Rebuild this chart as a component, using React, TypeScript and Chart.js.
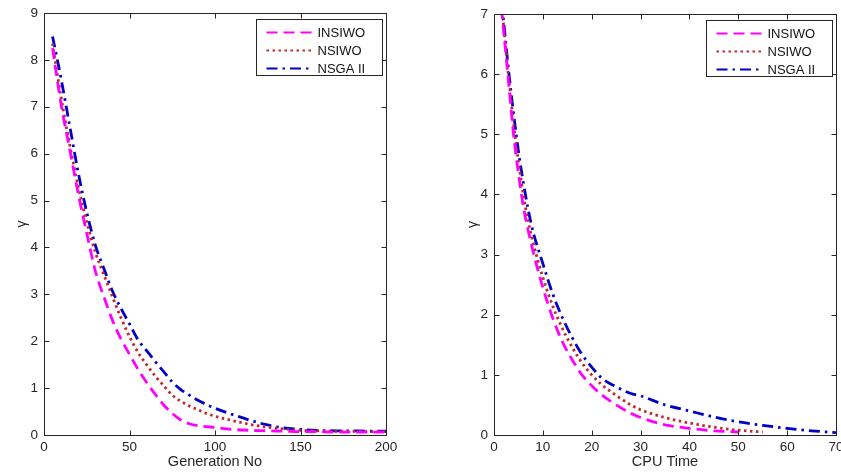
import React, { useEffect, useRef } from "react";
import { Chart, registerables } from "chart.js";
Chart.register(...registerables);

// ---------- Left panel: gamma vs Generation No ----------
const genX = [5, 10, 15, 20, 25, 30, 35, 40, 45, 50, 55, 60, 65, 70, 75, 80, 85, 90, 95, 100, 110, 120, 130, 140, 150, 160, 170, 180, 190, 200];
const genINSIWO = [8.25, 7.05, 6.1, 5.15, 4.3, 3.5, 2.95, 2.45, 2.05, 1.72, 1.4, 1.12, 0.87, 0.64, 0.46, 0.32, 0.24, 0.2, 0.18, 0.16, 0.12, 0.1, 0.09, 0.08, 0.07, 0.07, 0.06, 0.06, 0.06, 0.06];
const genNSIWO = [8.35, 7.2, 6.2, 5.3, 4.55, 3.9, 3.42, 2.95, 2.5, 2.1, 1.76, 1.5, 1.26, 1.05, 0.85, 0.72, 0.62, 0.54, 0.46, 0.4, 0.31, 0.23, 0.17, 0.13, 0.1, 0.09, 0.08, 0.08, 0.07, 0.07];
const genNSGA = [8.5, 7.6, 6.6, 5.6, 4.75, 4.05, 3.55, 3.07, 2.7, 2.37, 2.03, 1.8, 1.57, 1.35, 1.13, 0.97, 0.85, 0.74, 0.65, 0.57, 0.44, 0.32, 0.22, 0.15, 0.12, 0.1, 0.09, 0.09, 0.08, 0.08];

// ---------- Right panel: gamma vs CPU Time ----------
const cpuX = [1.5, 2, 3, 4, 5, 6, 7, 8, 10, 12, 14, 16, 18, 20, 22, 25, 28, 30, 35, 40, 45, 50, 55, 60, 65, 70];
const cpuINSIWO = [7.1, 6.7, 5.85, 5.0, 4.35, 3.8, 3.4, 3.05, 2.45, 1.95, 1.55, 1.25, 1.0, 0.82, 0.67, 0.5, 0.36, 0.29, 0.17, 0.11, 0.07, 0.05, null, null, null, null];
const cpuNSIWO = [7.15, 6.78, 5.95, 5.18, 4.55, 4.0, 3.55, 3.2, 2.62, 2.15, 1.77, 1.46, 1.2, 1.0, 0.84, 0.66, 0.5, 0.42, 0.29, 0.2, 0.13, 0.08, 0.05, null, null, null];
const cpuNSGA = [7.2, 6.85, 6.05, 5.35, 4.72, 4.2, 3.75, 3.38, 2.85, 2.35, 1.95, 1.62, 1.34, 1.13, 0.95, 0.8, 0.69, 0.65, 0.5, 0.4, 0.3, 0.22, 0.16, 0.11, 0.07, 0.04];

const seriesNames = ["INSIWO", "NSIWO", "NSGA II"];
const seriesColors = ["#FF00FF", "#C0282B", "#0000C8"];
const seriesDashes = [[11, 6], [2.5, 3.5], [11, 5, 2.5, 5]];

const leftTicksX = { min: 0, max: 200, step: 50 };
const leftTicksY = { min: 0, max: 9, step: 1 };
const rightTicksX = { min: 0, max: 70, step: 10 };
const rightTicksY = { min: 0, max: 7, step: 1 };

const FONT = '"Liberation Sans", Arial, Helvetica, sans-serif';
const AXIS = "#262626";

function toPoints(xs: number[], ys: (number | null)[]) {
  const out: { x: number; y: number }[] = [];
  xs.forEach((x, i) => {
    const y = ys[i];
    if (y !== null && y !== undefined) out.push({ x, y });
  });
  return out;
}

const framePlugin = {
  id: "matlabFrame",
  afterDraw(chart: any) {
    const { ctx, chartArea: a, scales } = chart;
    const L = Math.round(a.left) + 0.5;
    const R = Math.round(a.right) + 0.5;
    const T = Math.round(a.top) + 0.5;
    const B = Math.round(a.bottom) + 0.5;
    ctx.save();
    ctx.strokeStyle = AXIS;
    ctx.lineWidth = 1;
    ctx.setLineDash([]);
    ctx.strokeRect(L, T, R - L, B - T);
    const tl = 5;
    ctx.beginPath();
    scales.x.ticks.forEach((t: any) => {
      const px = Math.round(scales.x.getPixelForValue(t.value)) + 0.5;
      ctx.moveTo(px, B);
      ctx.lineTo(px, B - tl);
      ctx.moveTo(px, T);
      ctx.lineTo(px, T + tl);
    });
    scales.y.ticks.forEach((t: any) => {
      const py = Math.round(scales.y.getPixelForValue(t.value)) + 0.5;
      ctx.moveTo(L, py);
      ctx.lineTo(L + tl, py);
      ctx.moveTo(R, py);
      ctx.lineTo(R - tl, py);
    });
    ctx.stroke();

    // legend box inside the plot, top-right
    const bw = 126;
    const bh = 56;
    const bx = Math.round(a.right - 4 - bw) + 0.5;
    const by = Math.round(a.top + 6) + 0.5;
    ctx.fillStyle = "#ffffff";
    ctx.fillRect(bx, by, bw, bh);
    ctx.strokeStyle = AXIS;
    ctx.strokeRect(bx, by, bw, bh);
    ctx.font = `13px ${FONT}`;
    ctx.textBaseline = "middle";
    ctx.textAlign = "left";
    chart.data.datasets.forEach((ds: any, i: number) => {
      const y = by + 13 + i * 18;
      ctx.strokeStyle = ds.borderColor;
      ctx.lineWidth = 2;
      ctx.setLineDash(ds.borderDash);
      ctx.beginPath();
      ctx.moveTo(bx + 10, y);
      ctx.lineTo(bx + 56, y);
      ctx.stroke();
      ctx.setLineDash([]);
      ctx.fillStyle = "#111";
      ctx.fillText(ds.label, bx + 61, y + 1);
    });
    ctx.restore();
  },
};

function buildConfig(
  xs: number[],
  ys: (number | null)[][],
  xr: { min: number; max: number; step: number },
  yr: { min: number; max: number; step: number },
  xTitle: string,
  yWidth: number,
  yTitlePad: number,
  pad: { top: number; right: number }
): any {
  return {
    type: "line",
    data: {
      datasets: ys.map((arr, i) => ({
        label: seriesNames[i],
        data: toPoints(xs, arr),
        borderColor: seriesColors[i],
        borderDash: seriesDashes[i],
        borderWidth: 2.8,
        pointRadius: 0,
        fill: false,
        cubicInterpolationMode: "monotone",
      })),
    },
    options: {
      responsive: false,
      animation: false,
      events: [],
      layout: { padding: { top: pad.top, right: pad.right, left: 0, bottom: 0 } },
      plugins: { legend: { display: false }, tooltip: { enabled: false } },
      scales: {
        x: {
          type: "linear",
          min: xr.min,
          max: xr.max,
          ticks: {
            stepSize: xr.step,
            padding: 4,
            color: AXIS,
            maxRotation: 0,
            font: { family: FONT, size: 13.5 },
          },
          grid: { display: false, drawTicks: false },
          border: { display: false },
          title: {
            display: true,
            text: xTitle,
            color: AXIS,
            padding: { top: 0, bottom: 4 },
            font: { family: FONT, size: 14.5 },
          },
          afterFit(s: any) {
            s.height = 40;
            s.paddingLeft = 0;
            s.paddingRight = 0;
          },
        },
        y: {
          type: "linear",
          min: yr.min,
          max: yr.max,
          ticks: {
            stepSize: yr.step,
            padding: 6,
            color: AXIS,
            font: { family: FONT, size: 13.5 },
          },
          grid: { display: false, drawTicks: false },
          border: { display: false },
          title: {
            display: true,
            text: "γ",
            color: AXIS,
            padding: { top: yTitlePad, bottom: 0 },
            font: { family: FONT, size: 14 },
          },
          afterFit(s: any) {
            s.width = yWidth;
            s.paddingTop = 0;
            s.paddingBottom = 0;
          },
        },
      },
    },
    plugins: [framePlugin],
  };
}

function Panel(props: { cfg: any; left: number; width: number }) {
  const ref = useRef<HTMLCanvasElement | null>(null);
  useEffect(() => {
    if (!ref.current) return;
    const chart = new Chart(ref.current, props.cfg);
    return () => chart.destroy();
  }, []);
  return (
    <canvas
      ref={ref}
      width={props.width}
      height={475}
      style={{ position: "absolute", left: props.left, top: 0, width: props.width, height: 475 }}
    />
  );
}

export default function App() {
  const leftCfg = buildConfig(genX, [genINSIWO, genNSIWO, genNSGA], leftTicksX, leftTicksY, "Generation No", 44, 14, { top: 13, right: 34 });
  const rightCfg = buildConfig(cpuX, [cpuINSIWO, cpuNSIWO, cpuNSGA], rightTicksX, rightTicksY, "CPU Time", 74, 45, { top: 14, right: 5 });
  return (
    <div style={{ position: "absolute", left: 0, top: 0, width: 841, height: 475, background: "#fff", overflow: "hidden" }}>
      <Panel cfg={leftCfg} left={0} width={420} />
      <Panel cfg={rightCfg} left={420} width={421} />
    </div>
  );
}
